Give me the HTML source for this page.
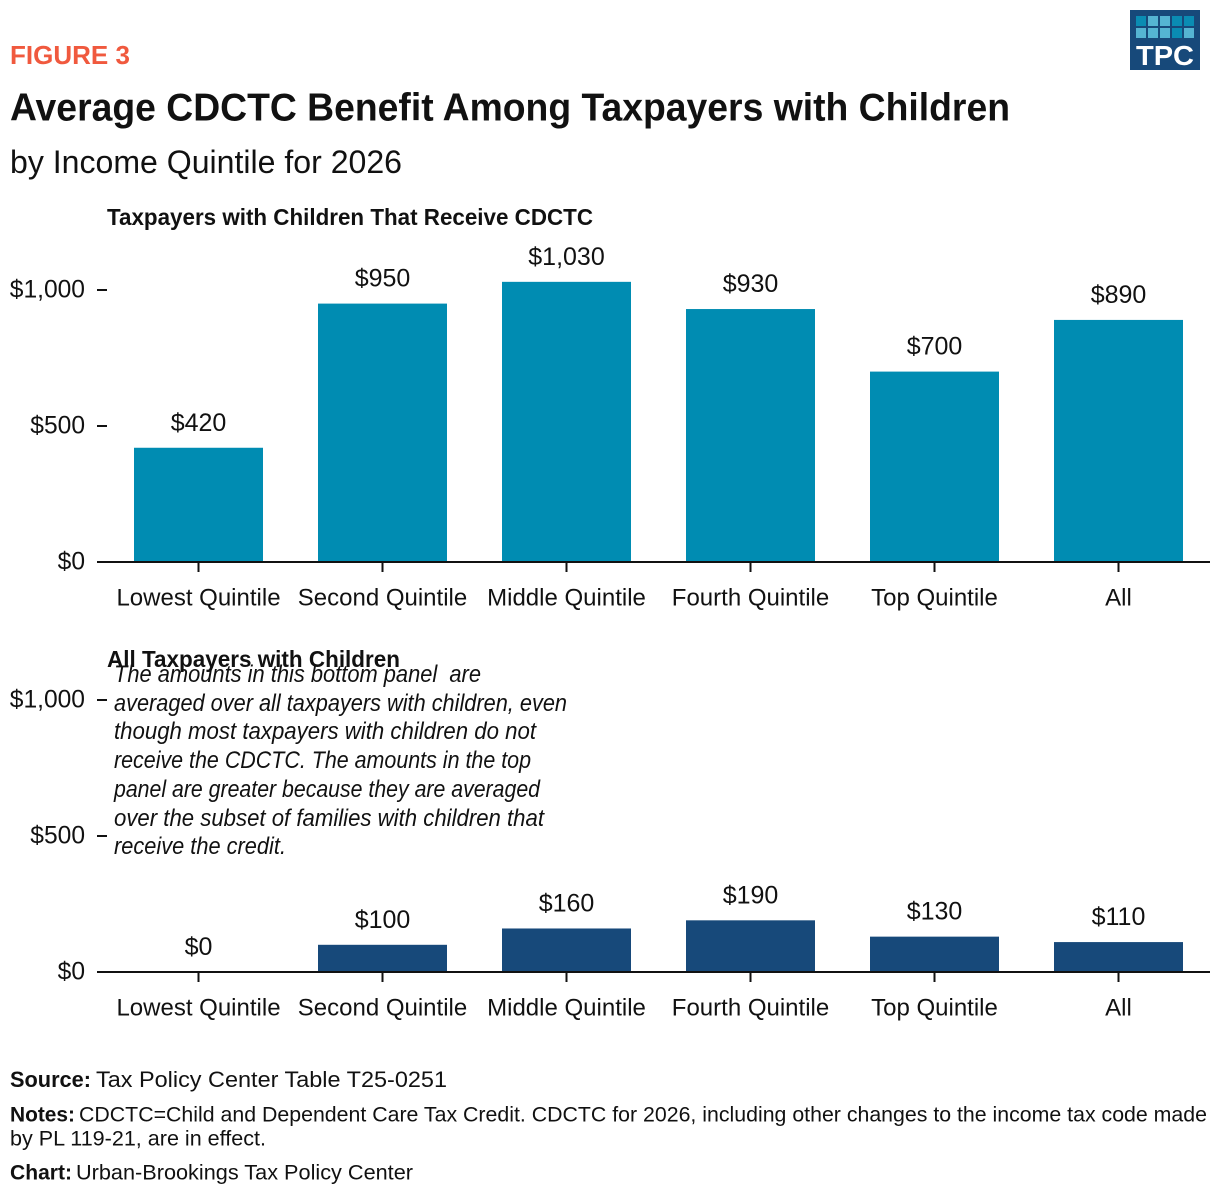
<!DOCTYPE html>
<html lang="en">
<head>
<meta charset="utf-8">
<title>Average CDCTC Benefit Among Taxpayers with Children</title>
<style>
html,body{margin:0;padding:0;background:#fff;width:1220px;height:1194px;overflow:hidden}
svg{display:block}
text{font-family:"Liberation Sans",sans-serif;fill:#111}
</style>
</head>
<body>
<svg id="chart" xmlns="http://www.w3.org/2000/svg" width="1220" height="1194" viewBox="0 0 1220 1194">
  <rect width="1220" height="1194" fill="#fff"/>
  <text x="10" y="64" font-size="26" font-weight="bold" style="fill:#f0593e" textLength="120" lengthAdjust="spacingAndGlyphs">FIGURE 3</text>
  <text x="10" y="120.5" font-size="39" font-weight="bold" textLength="1000" lengthAdjust="spacingAndGlyphs">Average CDCTC Benefit Among Taxpayers with Children</text>
  <text x="10" y="173" font-size="32" textLength="392" lengthAdjust="spacingAndGlyphs">by Income Quintile for 2026</text>

  <g>
    <rect x="1130" y="10" width="70" height="60" fill="#17497a"/>
    <rect x="1136" y="16" width="10" height="10" fill="#0a8cb3"/>
    <rect x="1148" y="16" width="10" height="10" fill="#55b4d2"/>
    <rect x="1160" y="16" width="10" height="10" fill="#55b4d2"/>
    <rect x="1172" y="16" width="10" height="10" fill="#0a8cb3"/>
    <rect x="1184" y="16" width="10" height="10" fill="#0a8cb3"/>
    <rect x="1136" y="28" width="10" height="10" fill="#55b4d2"/>
    <rect x="1148" y="28" width="10" height="10" fill="#55b4d2"/>
    <rect x="1160" y="28" width="10" height="10" fill="#55b4d2"/>
    <rect x="1172" y="28" width="10" height="10" fill="#0a8cb3"/>
    <rect x="1184" y="28" width="10" height="10" fill="#55b4d2"/>
    <text x="1136" y="65" font-size="28" font-weight="bold" style="fill:#fff" textLength="58" lengthAdjust="spacingAndGlyphs">TPC</text>
  </g>

  <text x="107" y="225" font-size="23.5" font-weight="bold" textLength="486" lengthAdjust="spacingAndGlyphs">Taxpayers with Children That Receive CDCTC</text>
  <g id="top-panel"></g>

  <text x="107" y="667" font-size="23.5" font-weight="bold" textLength="293" lengthAdjust="spacingAndGlyphs">All Taxpayers with Children</text>
  <g id="bottom-panel"></g>

  <g font-size="24" font-style="italic">
    <text x="114" y="682" textLength="367" lengthAdjust="spacingAndGlyphs" style="white-space:pre">The amounts in this bottom panel  are</text>
    <text x="114" y="711" textLength="453" lengthAdjust="spacingAndGlyphs">averaged over all taxpayers with children, even</text>
    <text x="114" y="739" textLength="422" lengthAdjust="spacingAndGlyphs">though most taxpayers with children do not</text>
    <text x="114" y="768" textLength="417" lengthAdjust="spacingAndGlyphs">receive the CDCTC. The amounts in the top</text>
    <text x="114" y="797" textLength="426" lengthAdjust="spacingAndGlyphs">panel are greater because they are averaged</text>
    <text x="114" y="826" textLength="430" lengthAdjust="spacingAndGlyphs">over the subset of families with children that</text>
    <text x="114" y="854" textLength="172" lengthAdjust="spacingAndGlyphs">receive the credit.</text>
  </g>

  <g>
    <text x="10" y="1087" font-size="22.5" font-weight="bold" textLength="81" lengthAdjust="spacingAndGlyphs">Source:</text>
    <text x="96" y="1087" font-size="22.5" textLength="351" lengthAdjust="spacingAndGlyphs">Tax Policy Center Table T25-0251</text>
    <text x="10" y="1121.5" font-size="21" font-weight="bold" textLength="65" lengthAdjust="spacingAndGlyphs">Notes:</text>
    <text x="79" y="1121.5" font-size="21" textLength="1128" lengthAdjust="spacingAndGlyphs">CDCTC=Child and Dependent Care Tax Credit. CDCTC for 2026, including other changes to the income tax code made</text>
    <text x="10" y="1145.5" font-size="21" textLength="256" lengthAdjust="spacingAndGlyphs">by PL 119-21, are in effect.</text>
    <text x="10" y="1179.5" font-size="21" font-weight="bold" textLength="62" lengthAdjust="spacingAndGlyphs">Chart:</text>
    <text x="76" y="1179.5" font-size="21" textLength="337" lengthAdjust="spacingAndGlyphs">Urban-Brookings Tax Policy Center</text>
  </g>
</svg>
<script>
const categories = ['Lowest Quintile', 'Second Quintile', 'Middle Quintile', 'Fourth Quintile', 'Top Quintile', 'All'];
const tickValues = [0, 500, 1000];
const tickLabels = ['$0', '$500', '$1,000'];
const topValues = [420, 950, 1030, 930, 700, 890];
const topLabels = ['$420', '$950', '$1,030', '$930', '$700', '$890'];
const bottomValues = [0, 100, 160, 190, 130, 110];
const bottomLabels = ['$0', '$100', '$160', '$190', '$130', '$110'];

const NS = 'http://www.w3.org/2000/svg';
const plotLeft = 106.5;
const bandWidth = 184;
const barWidth = 129;
const axisLeft = 97;
const axisRight = 1210;
const pxPerDollar = 0.272;

function xCenter(i) { return plotLeft + bandWidth * (i + 0.5); }

function make(parent, tag, attrs, text) {
  const el = document.createElementNS(NS, tag);
  for (const key in attrs) el.setAttribute(key, attrs[key]);
  if (text !== undefined) el.textContent = text;
  parent.appendChild(el);
  return el;
}

function drawPanel(groupId, baseY, values, labels, color) {
  const group = document.getElementById(groupId);
  const yScale = function (v) { return baseY - v * pxPerDollar; };

  tickValues.forEach(function (v, i) {
    const label = make(group, 'text', { x: 85, y: yScale(v) + 7.5, 'font-size': 24.6, 'text-anchor': 'end' }, tickLabels[i]);
    
    
    if (v > 0) {
      const tick = make(group, 'line', { x1: axisLeft, x2: 107, y1: yScale(v), y2: yScale(v), stroke: '#111', 'stroke-width': 2 });
      
      
    }
  });

  values.forEach(function (v, i) {
    const cx = xCenter(i);
    const bar = make(group, 'rect', { x: cx - barWidth / 2, y: yScale(v), width: barWidth, height: v * pxPerDollar, fill: color });
    
    
    const valueLabel = make(group, 'text', { x: cx, y: yScale(v) - 17, 'font-size': 25, 'text-anchor': 'middle' }, labels[i]);
    
    
    const xTick = make(group, 'line', { x1: cx, x2: cx, y1: baseY, y2: baseY + 10, stroke: '#111', 'stroke-width': 2 });
    
    
    const catLabel = make(group, 'text', { x: cx, y: baseY + 43.5, 'font-size': 24, 'text-anchor': 'middle' }, categories[i]);
    
    
  });

  const axis = make(group, 'line', { x1: axisLeft, x2: axisRight, y1: baseY, y2: baseY, stroke: '#111', 'stroke-width': 2 });
  
  
}

drawPanel('top-panel', 562, topValues, topLabels, '#008cb2');
drawPanel('bottom-panel', 972, bottomValues, bottomLabels, '#17497a');
</script>
</body>
</html>
